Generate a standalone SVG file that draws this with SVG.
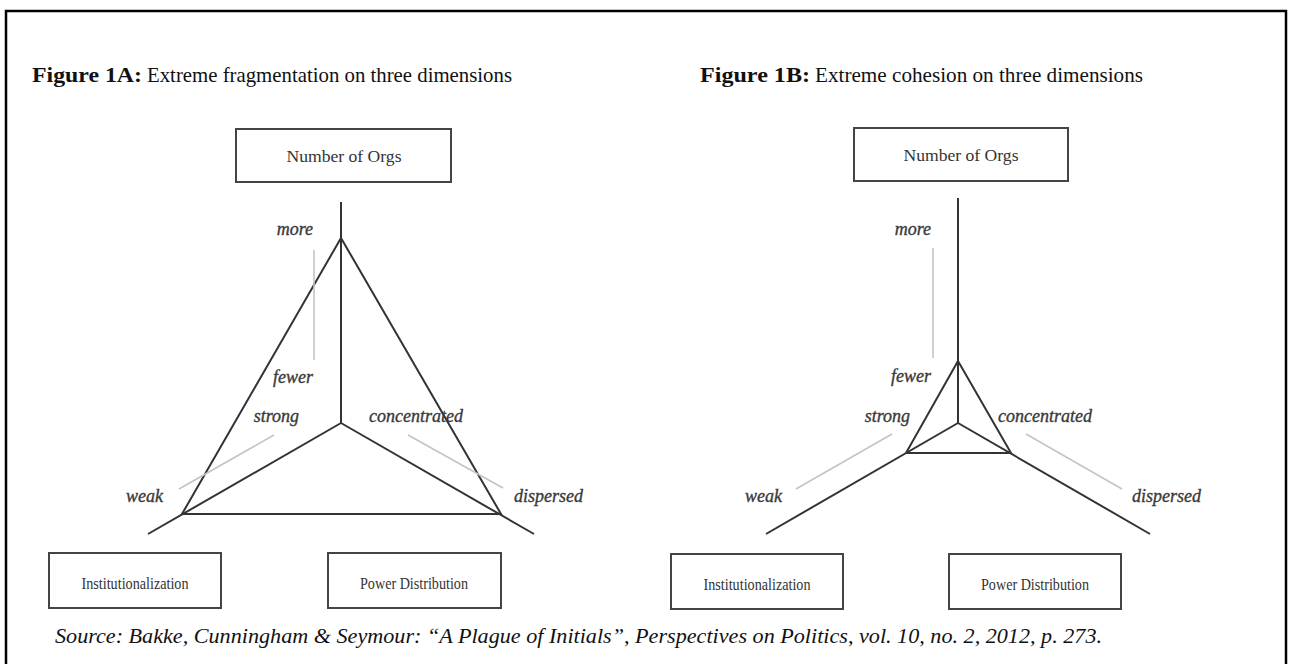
<svg xmlns="http://www.w3.org/2000/svg" width="1293" height="664" viewBox="0 0 1293 664">
  <style>
    .title { font-family: "Liberation Serif", serif; font-size: 22px; fill: #111; }
    .title-b { font-weight: bold; }
    .box { fill: #fff; stroke: #444; stroke-width: 2; }
    .box-text { font-family: "Liberation Serif", serif; font-size: 17px; fill: #333; text-anchor: middle; }
    .axis { stroke: #333; stroke-width: 2; fill: none; stroke-linejoin: miter; }
    .scale { stroke: #c4c4c4; stroke-width: 1.6; fill: none; }
    .lbl { font-family: "Liberation Serif", serif; font-style: italic; font-size: 18px; fill: #3a3a3a; stroke: #3a3a3a; stroke-width: 0.35; }
    .end { text-anchor: end; }
    .source { font-family: "Liberation Serif", serif; font-style: italic; font-size: 21px; fill: #111; }
  </style>

  <rect x="6" y="11" width="1280" height="670" fill="#fff" stroke="#000" stroke-width="2.5"/>

  <!-- headings -->
  <g id="heading-1a">
    <text class="title title-b" x="32" y="82" textLength="110" lengthAdjust="spacingAndGlyphs">Figure 1A:</text>
    <text class="title" x="147" y="82" textLength="365" lengthAdjust="spacingAndGlyphs">Extreme fragmentation on three dimensions</text>
  </g>
  <g id="heading-1b">
    <text class="title title-b" x="700" y="82" textLength="110" lengthAdjust="spacingAndGlyphs">Figure 1B:</text>
    <text class="title" x="815" y="82" textLength="328" lengthAdjust="spacingAndGlyphs">Extreme cohesion on three dimensions</text>
  </g>

  <!-- connectors: axes, triangles and scale guides -->
  <g id="connectors">
    <g id="axes-1a">
      <line class="axis" x1="341" y1="202" x2="341" y2="423"/>
      <line class="axis" x1="341" y1="423" x2="148" y2="534"/>
      <line class="axis" x1="341" y1="423" x2="534" y2="534"/>
      <polygon class="axis" points="341,238 182,514 501,514"/>
      <line class="scale" x1="314" y1="250" x2="314" y2="360"/>
      <line class="scale" x1="274" y1="435" x2="179" y2="489"/>
      <line class="scale" x1="408" y1="435" x2="503" y2="488"/>
    </g>
    <g id="axes-1b">
      <line class="axis" x1="958" y1="198" x2="958" y2="423"/>
      <line class="axis" x1="958" y1="423" x2="766" y2="534"/>
      <line class="axis" x1="958" y1="423" x2="1150" y2="534"/>
      <polygon class="axis" points="958,361 906,453 1011,453"/>
      <line class="scale" x1="933" y1="248" x2="933" y2="358"/>
      <line class="scale" x1="892" y1="434" x2="796" y2="489"/>
      <line class="scale" x1="1026" y1="434" x2="1122" y2="489"/>
    </g>
  </g>

  <!-- axis end labels -->
  <g id="labels-1a">
    <text class="lbl end" x="313" y="235">more</text>
    <text class="lbl end" x="313" y="383">fewer</text>
    <text class="lbl end" x="299" y="422">strong</text>
    <text class="lbl" x="369" y="422">concentrated</text>
    <text class="lbl end" x="163" y="502">weak</text>
    <text class="lbl" x="514" y="502">dispersed</text>
  </g>
  <g id="labels-1b">
    <text class="lbl end" x="931" y="235">more</text>
    <text class="lbl end" x="931" y="382">fewer</text>
    <text class="lbl end" x="910" y="422">strong</text>
    <text class="lbl" x="998" y="422">concentrated</text>
    <text class="lbl" x="745" y="502">weak</text>
    <text class="lbl" x="1132" y="502">dispersed</text>
  </g>

  <!-- dimension boxes, panel A -->
  <g id="orgs-1a">
    <rect class="box" x="236" y="129" width="215" height="53"/>
    <text class="box-text" x="344" y="162" textLength="115" lengthAdjust="spacingAndGlyphs">Number of Orgs</text>
  </g>
  <g id="inst-1a">
    <rect class="box" x="49" y="553" width="172" height="55"/>
    <text class="box-text" x="135" y="589" textLength="107" lengthAdjust="spacingAndGlyphs">Institutionalization</text>
  </g>
  <g id="power-1a">
    <rect class="box" x="328" y="553" width="173" height="55"/>
    <text class="box-text" x="414" y="589" textLength="108" lengthAdjust="spacingAndGlyphs">Power Distribution</text>
  </g>

  <!-- dimension boxes, panel B -->
  <g id="orgs-1b">
    <rect class="box" x="854" y="128" width="214" height="53"/>
    <text class="box-text" x="961" y="161" textLength="115" lengthAdjust="spacingAndGlyphs">Number of Orgs</text>
  </g>
  <g id="inst-1b">
    <rect class="box" x="671" y="554" width="172" height="55"/>
    <text class="box-text" x="757" y="590" textLength="107" lengthAdjust="spacingAndGlyphs">Institutionalization</text>
  </g>
  <g id="power-1b">
    <rect class="box" x="949" y="554" width="172" height="55"/>
    <text class="box-text" x="1035" y="590" textLength="108" lengthAdjust="spacingAndGlyphs">Power Distribution</text>
  </g>

  <!-- citation -->
  <text class="source" x="55" y="643" textLength="1047" lengthAdjust="spacingAndGlyphs">Source: Bakke, Cunningham &amp; Seymour: “A Plague of Initials”, Perspectives on Politics, vol. 10, no. 2, 2012, p. 273.</text>
</svg>
